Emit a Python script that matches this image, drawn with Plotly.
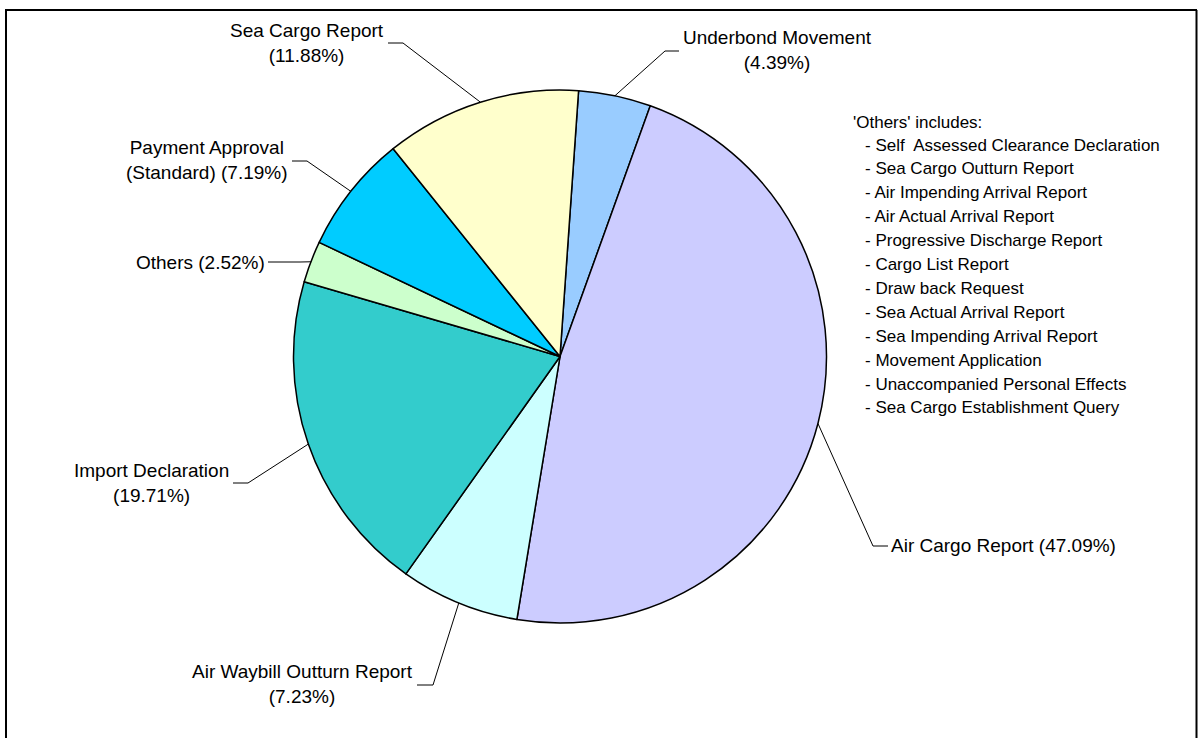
import math
import plotly.graph_objects as go

# ---------------- data ----------------
categories = [
    "Underbond Movement",
    "Air Cargo Report",
    "Air Waybill Outturn Report",
    "Import Declaration",
    "Others",
    "Payment Approval (Standard)",
    "Sea Cargo Report",
]
shares = [4.39, 47.09, 7.23, 19.71, 2.52, 7.19, 11.88]
label_templates = [
    "Underbond Movement<br>({p}%)",
    "Air Cargo Report ({p}%)",
    "Air Waybill Outturn Report<br>({p}%)",
    "Import Declaration<br>({p}%)",
    "Others ({p}%)",
    "Payment Approval<br>(Standard) ({p}%)",
    "Sea Cargo Report<br>({p}%)",
]
others_title = "'Others' includes:"
others_items = [
    "Self  Assessed Clearance Declaration",
    "Sea Cargo Outturn Report",
    "Air Impending Arrival Report",
    "Air Actual Arrival Report",
    "Progressive Discharge Report",
    "Cargo List Report",
    "Draw back Request",
    "Sea Actual Arrival Report",
    "Sea Impending Arrival Report",
    "Movement Application",
    "Unaccompanied Personal Effects",
    "Sea Cargo Establishment Query",
]

# ---------------- styles / layout geometry (pixels) ----------------
colors = ["#99CCFF", "#CCCCFF", "#CCFFFF", "#33CCCC", "#CCFFCC", "#00CCFF", "#FFFFCC"]
W, H = 1198, 738
CX, CY, R = 560.0, 356.5, 266.5
ROTATION = 4
FONT = "Liberation Sans, Arial, sans-serif"

# leader elbows, leader ends (next to the label), label anchor and side
elbows = [(665, 51), (873, 546), (433, 685), (248, 483), (300, 262), (307, 161), (403, 43)]
ends = [(679, 51), (888, 546), (417, 685), (233, 483), (268, 262), (292, 161), (388, 43)]
label_pos = [(681, 50), (889, 545), (415, 684), (231, 483), (267, 262), (290, 160), (386, 43)]
label_side = ["left", "left", "right", "right", "right", "right", "right"]


def px(x):
    return x / W


def py(y):
    return 1 - y / H


fig = go.Figure(
    go.Pie(
        labels=categories,
        values=shares,
        sort=False,
        direction="clockwise",
        rotation=ROTATION,
        marker=dict(colors=colors, line=dict(color="black", width=1.5)),
        textinfo="none",
        hoverinfo="label+percent",
        showlegend=False,
        domain=dict(x=[px(CX - R), px(CX + R)], y=[py(CY + R), py(CY - R)]),
    )
)

shapes = []
annotations = []
total = sum(shares)
cum = 0.0
for i, v in enumerate(shares):
    mid = math.radians(ROTATION + (cum + v / 2) / total * 360)
    cum += v
    ex = CX + R * math.sin(mid)
    ey = CY - R * math.cos(mid)
    (bx, by), (tx, ty) = elbows[i], ends[i]
    shapes.append(dict(type="path", xref="paper", yref="paper",
                       path=f"M {px(ex)} {py(ey)} L {px(bx)} {py(by)} L {px(tx)} {py(ty)}",
                       line=dict(color="black", width=1)))
    lx, ly = label_pos[i]
    annotations.append(dict(
        x=px(lx), y=py(ly), xref="paper", yref="paper", showarrow=False,
        text=label_templates[i].format(p=f"{v:.2f}"),
        xanchor=label_side[i], yanchor="middle", align="center",
        font=dict(family=FONT, size=19, color="black"),
    ))

# "Others" explanation block
annotations.append(dict(x=px(851), y=py(122), xref="paper", yref="paper", showarrow=False,
                        text=others_title, xanchor="left", yanchor="middle", align="left",
                        font=dict(family=FONT, size=17, color="black")))
for k, item in enumerate(others_items):
    annotations.append(dict(x=px(863), y=py(145 + k * 23.9), xref="paper", yref="paper",
                            showarrow=False, text="- " + item.replace("  ", "&nbsp; "),
                            xanchor="left", yanchor="middle",
                            align="left", font=dict(family=FONT, size=17, color="black")))

# outer frame
for x0, y0, x1, y1 in [(6, 10, 6, 745), (5, 10, 1197, 10), (1196.5, 10, 1196.5, 745)]:
    shapes.append(dict(type="line", xref="paper", yref="paper",
                       x0=px(x0), y0=py(y0), x1=px(x1), y1=py(y1),
                       line=dict(color="black", width=2)))

fig.update_layout(
    width=W, height=H,
    margin=dict(l=0, r=0, t=0, b=0),
    paper_bgcolor="white", plot_bgcolor="white",
    shapes=shapes, annotations=annotations,
    font=dict(family=FONT),
)

fig.write_html("out.html", config={"displayModeBar": False},
               post_script="document.body.style.margin='0px';document.body.style.overflow='hidden';")
